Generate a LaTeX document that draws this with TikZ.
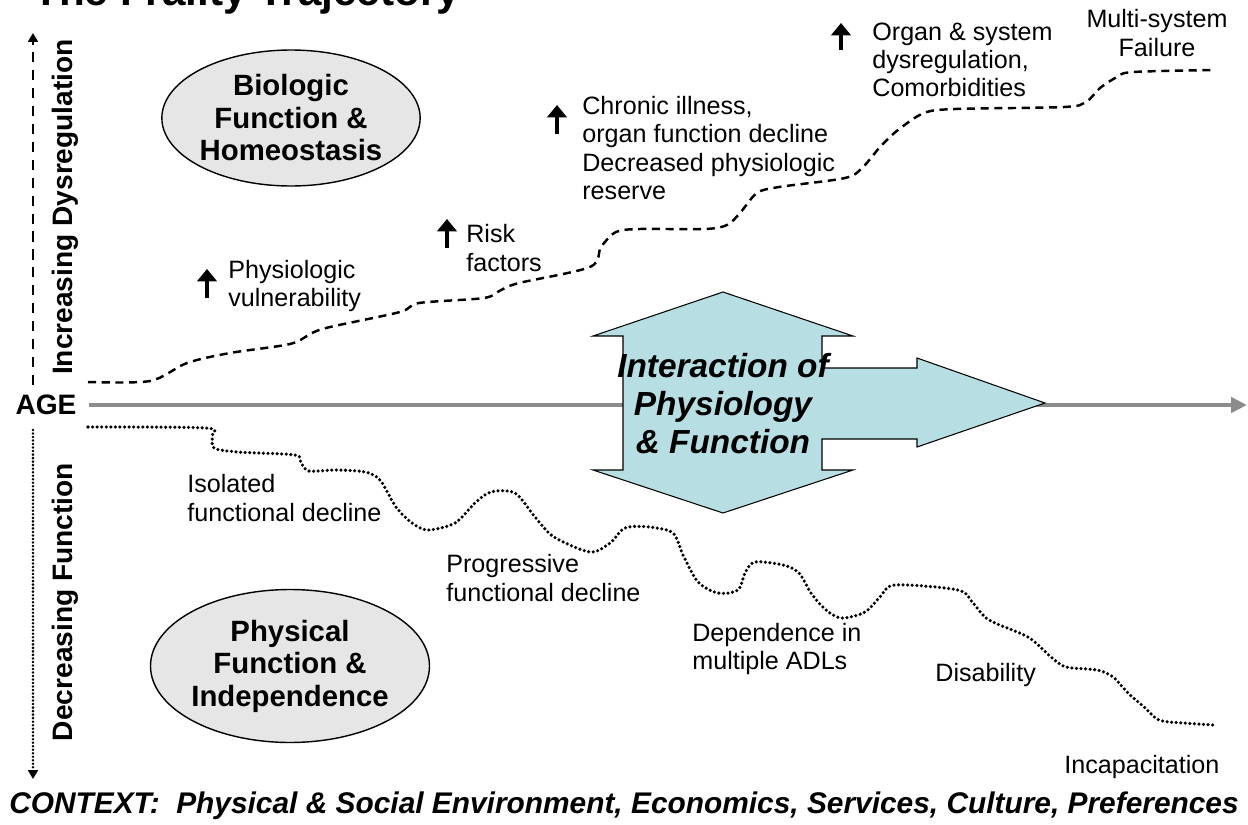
\documentclass[tikz,border=0pt]{standalone}
\usepackage{fontspec}
\setmainfont{Liberation Sans}
\usetikzlibrary{arrows.meta,shapes.geometric,positioning}
\definecolor{hexBlue}{HTML}{B7DEE3}
\definecolor{ovalGray}{HTML}{E6E6E6}
\definecolor{axisGray}{HTML}{8C8C8C}

\begin{document}
\begin{tikzpicture}[
  x=0.02cm, y=-0.02cm,
  lab/.style={anchor=west, align=left, inner sep=0pt, font=\fontsize{14.3}{16}\selectfont},
  side/.style={rotate=90, inner sep=0pt, font=\fontsize{16}{18}\selectfont\bfseries},
  oval/.style={ellipse, draw, line width=0.8pt, fill=ovalGray, inner sep=0pt, align=center,
    font=\fontsize{16.7}{18.5}\selectfont\bfseries},
  riser/.style={line width=2.8pt, -{Triangle[length=7pt,width=11pt]}},
  rise/.style={line width=1.4pt, dash pattern=on 4.6pt off 3.2pt},
  fall/.style={line width=2pt, line cap=round, dash pattern=on 0pt off 2.6pt},
  axis/.style={line width=2.8pt, axisGray, -{Triangle[length=9pt,width=8.5pt]}}
]
\useasboundingbox (0,0) rectangle (1248,825);

\def\xSide{33}
\def\yAge{405}

% ------------------------
% Title (runs off the top)
% ------------------------
\node[anchor=base west, inner sep=0pt, font=\fontsize{24}{28}\selectfont\bfseries] (title)
  at (33,5) {The Frailty Trajectory};

% ------------------------
% Age axis and side arrows
% ------------------------
\node[inner sep=0pt, font=\fontsize{16}{18}\selectfont\bfseries] (age) at (46,\yAge) {AGE};
\coordinate (axisEnd) at (1247,\yAge);
\draw[axis, shorten <=7pt] (age.east) -- (axisEnd);

\coordinate (upFrom) at (\xSide,385);
\coordinate (upTo)   at (\xSide,33);
\coordinate (dnFrom) at (\xSide,430);
\coordinate (dnTo)   at (\xSide,779);
\draw[line width=1.3pt, dash pattern=on 5.8pt off 4.4pt, -{Triangle[length=5pt,width=5.5pt]}] (upFrom) -- (upTo);
\draw[line width=1.6pt, line cap=round, dash pattern=on 0pt off 2pt, -{Triangle[length=5pt,width=5.5pt]}] (dnFrom) -- (dnTo);

\node[side] (dysreg) at (65,207) {Increasing Dysregulation};
\node[side] (decfun) at (65,602) {Decreasing Function};

% ------------------------
% Domains
% ------------------------
\node[oval, minimum width=5.04cm, minimum height=2.72cm] (bio) at (291,118)
  {Biologic\\Function \&\\Homeostasis};
\node[oval, minimum width=5.08cm, minimum height=3.06cm] (phys) at (290,666)
  {Physical\\Function \&\\Independence};

% ------------------------
% Interaction arrow
% ------------------------
\draw[line width=0.6pt, fill=hexBlue]
  (723,292) -- (853,336) -- (822,336) -- (822,368) -- (917,368) -- (917,358)
  -- (1045,403) -- (917,447) -- (917,439) -- (822,439) -- (822,470) -- (853,470)
  -- (723,513) -- (593,470) -- (623,470) -- (623,336) -- (593,336) -- cycle;
\node[align=center, inner sep=0pt, font=\fontsize{19}{21.6}\selectfont\bfseries\itshape] (inter)
  at (723,404) {Interaction of\\Physiology\\\& Function};

% ------------------------
% Dysregulation trajectory (dashed)
% ------------------------
\coordinate (riseStart) at (88,382);
\coordinate (riseEnd) at (1215,70);
\draw[rise] plot[smooth, tension=0.5] coordinates {
  (riseStart) (150,381) (187,363) (230,353) (290,344) (312,333) (330,327)
  (400,312) (419,303) (484,298) (501,290) (519,283) (590,267) (601,247)
  (616,232) (640,229) (705,229) (727,225) (740,213) (757,193) (779,187)
  (845,178) (863,167) (880,147) (898,130) (924,113) (955,109) (1064,107)
  (1086,102) (1100,88) (1117,77) (1133,72) (riseEnd)};

\draw[riser] (207,298) -- (207,269);
\node[lab] (vuln) at (228,286) {Physiologic\\vulnerability};
\draw[riser] (447,248) -- (447,219);
\node[lab] (risk) at (466,248) {Risk\\factors};
\draw[riser] (557,134) -- (557,105);
\node[lab] (chronic) at (582,148) {Chronic illness,\\organ function decline\\Decreased physiologic\\reserve};
\draw[riser] (841,50) -- (841,23);
\node[lab] (organ) at (872,60) {Organ \& system\\dysregulation,\\Comorbidities};
\node[lab, anchor=center, align=center] (multi) at (1157,33) {Multi-system\\Failure};

% ------------------------
% Functional trajectory (dotted)
% ------------------------
\coordinate (fallStart) at (88,427);
\coordinate (fallEnd) at (1214,725);
\draw[fall] plot[smooth, tension=0.5] coordinates {
  (fallStart) (206,428) (212,436) (214,448) (238,452) (295,455) (301,463)
  (309,471) (337,470) (365,472) (380,480) (396,507) (412,523) (428,530)
  (455,523) (475,503) (491,492) (515,493) (535,517) (554,537) (590,552)
  (610,543) (625,528) (649,527) (673,533) (683,555) (698,582) (718,593)
  (738,590) (745,573) (755,562) (783,565) (799,573) (811,593) (826,610)
  (842,618) (865,612) (880,597) (895,585) (958,590) (973,603) (989,620)
  (1028,637) (1051,657) (1066,667) (1097,670) (1113,677) (1128,693)
  (1144,707) (1159,720) (1183,723) (fallEnd)};

\node[lab] (isol) at (187,498) {Isolated\\functional decline};
\node[lab] (prog) at (446,578) {Progressive\\functional decline};
\node[lab] (adl)  at (692,649) {Dependence in\\multiple ADLs};
\node[lab] (disab) at (935,675) {Disability};
\node[lab] (incap) at (1064,767) {Incapacitation};

% ------------------------
% Context line
% ------------------------
\node[anchor=base, inner sep=0pt, font=\fontsize{17}{20}\selectfont\bfseries\itshape] (context)
  at (624,813) {CONTEXT:\ \ Physical \& Social Environment, Economics, Services, Culture, Preferences};

\end{tikzpicture}
\end{document}
